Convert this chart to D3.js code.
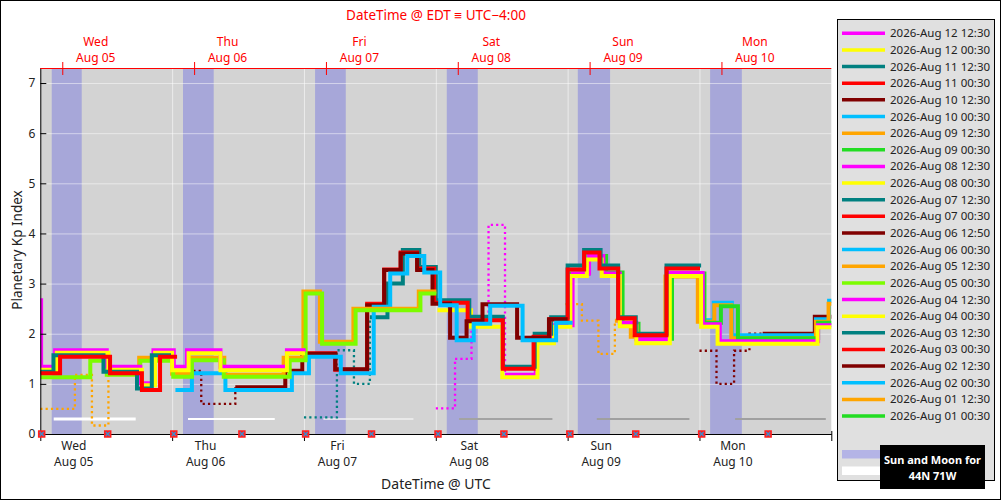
<!DOCTYPE html>
<html><head><meta charset="utf-8">
<script src="https://cdn.jsdelivr.net/npm/d3@7"></script>
<style>body{margin:0;background:#fff}svg{display:block;font-family:"Noto Sans",sans-serif}</style>
</head><body><svg id="c" width="1001" height="500"></svg>
<script>
// ---------------- DATA (hours after 2026-08-05 00:00 UTC, Kp value) ----------------
const legendLabels = ["2026-Aug 12 12:30","2026-Aug 12 00:30","2026-Aug 11 12:30","2026-Aug 11 00:30",
  "2026-Aug 10 12:30","2026-Aug 10 00:30","2026-Aug 09 12:30","2026-Aug 09 00:30",
  "2026-Aug 08 12:30","2026-Aug 08 00:30","2026-Aug 07 12:30","2026-Aug 07 00:30",
  "2026-Aug 06 12:50","2026-Aug 06 00:30","2026-Aug 05 12:30","2026-Aug 05 00:30",
  "2026-Aug 04 12:30","2026-Aug 04 00:30","2026-Aug 03 12:30","2026-Aug 03 00:30",
  "2026-Aug 02 12:30","2026-Aug 02 00:30","2026-Aug 01 12:30","2026-Aug 01 00:30"];
const legendColors = ["#ff00ff","#ffff00","#008080","#ff0000","#800000","#00bfff","#ffa500","#22dd22",
  "#ff00ff","#ffff00","#008080","#ff0000","#800000","#00bfff","#ffa500","#7cfc00",
  "#ff00ff","#ffff00","#008080","#ff0000","#800000","#00bfff","#ffa500","#22dd22"];

// forecast (solid) steps
const fcAug03_0030 = [[0,1.21],[3.6,1.54],[12.7,1.21],[18.5,0.88],[21.8,1.54],[24.9,1.54]];
const fcAug03_1230 = [[0,1.24],[2.4,1.57],[11.5,1.24],[17.6,0.91],[20.3,1.57],[23.8,1.57]];
const fcAug04_0030 = [[0,1.28],[3.0,1.62],[12.4,1.28],[18.5,0.97],[20.9,1.62],[24.0,1.27],[27.0,1.61],[32.8,1.27],[44.9,1.61],[48.2,1.61]];
const fcAug04_1230 = [[-3,2.67],[0.15,1.34],[2.7,1.67],[12.1,1.34],[18.2,1.01],[20.6,1.67],[24.3,1.34],[26.7,1.67],[32.8,1.34],[44.9,1.67],[48.3,1.67]];
const fcAug05_0030 = [[0,1.13],[9.1,1.46],[12.1,1.18],[18.2,1.46],[24.2,1.14],[27.6,1.47],[33.4,1.14],[45.4,1.47],[48.3,2.8],[51.3,1.8],[57.4,2.47],[69.2,2.8],[72.1,2.8]];
const fcAug05_1230 = [[12.4,1.2],[18.0,1.52],[24.0,1.2],[27.3,1.52],[33.5,1.18],[44.3,1.52],[47.9,2.84],[50.9,1.84],[57.0,2.5],[68.9,2.84],[72.1,2.84]];
const fcAug06_0030 = [[24.6,0.88],[27.6,1.21],[33.7,0.88],[45.8,1.21],[48.9,1.54],[54.7,1.21],[60.7,2.54],[63.7,3.2],[66.8,3.55],[69.9,3.22],[72.8,2.57],[75.8,1.87],[78.9,2.2],[81.9,2.56],[87.8,1.87],[93.9,2.22],[96.9,2.22]];
const fcAug06_1250 = [[35.5,0.93],[44.6,1.26],[47.7,1.6],[53.7,1.29],[59.5,2.57],[62.6,3.27],[65.6,3.6],[68.6,3.27],[71.4,2.6],[74.6,1.92],[77.6,2.25],[80.5,2.59],[86.8,1.92],[92.6,2.29],[96.0,2.29]];
const fcAug07_0030 = [[48.2,1.61],[53.7,1.28],[59.5,2.6],[62.6,3.28],[65.6,3.62],[68.6,3.3],[71.7,2.62],[77.8,2.27],[84.2,1.3],[89.8,1.94],[92.7,2.29],[96.0,3.28],[99.0,3.62],[101.8,3.3],[105.2,2.31],[108.2,1.97],[114.0,3.3],[120.1,3.3]];
const fcAug07_1230 = [[60.0,2.33],[63.2,3.0],[66.0,3.67],[69.0,3.33],[72.0,2.67],[78.1,2.34],[84.2,1.34],[90.0,2.0],[93.0,2.33],[96.0,3.36],[99.0,3.67],[102.0,3.36],[105.2,2.33],[108.4,2.0],[114.0,3.36],[120.3,3.36]];
const fcAug08_0030 = [[72.3,2.47],[78.4,2.14],[84.1,1.13],[90.5,1.81],[93.5,2.14],[96.5,3.15],[99.5,3.48],[102.2,3.15],[105.5,2.15],[108.5,1.81],[114.6,3.15],[120.3,2.14],[123.3,1.8],[141.5,2.13],[144.2,2.13]];
const fcAug08_1230 = [[84.6,1.18],[90.2,1.84],[93.2,2.17],[96.9,3.2],[99.9,3.55],[102.5,3.2],[105.5,2.22],[108.5,1.89],[114.4,3.21],[120.6,2.19],[123.7,1.85],[141.6,2.17],[144.2,2.17]];
const fcAug09_0030 = [[96.3,3.2],[99.8,3.55],[103.0,3.22],[106.0,2.2],[108.9,1.9],[115.0,3.2],[120.9,2.22],[123.9,2.55],[127.0,1.91],[141.6,2.22],[144.2,2.22]];
const fcAug09_1230 = [[104.6,2.26],[107.5,1.94],[113.8,3.14],[119.7,2.24],[122.7,2.57],[125.8,1.91],[141.2,2.24],[143.5,2.6],[144.2,2.6]];
const fcAug10_0030 = [[120.2,2.27],[122.6,2.62],[125.9,1.97],[141.2,2.29],[143.6,2.66],[144.2,2.66]];
const fcAug10_1230 = [[131.5,2.0],[141.0,2.34],[144.2,2.34]];

// estimated (dotted) steps at the start of the 12:30 issues
const estAug05_1230 = [[0,0.5],[6.3,1.18],[9.4,0.17],[12.4,1.2]];
const estAug06_1250 = [[24,1.26],[29.3,0.6],[35.5,0.93]];
const estAug07_1230 = [[48,0.33],[54.0,1.67],[57.1,1.0],[60.0,2.33]];
const estAug08_1230 = [[72,0.51],[75.5,1.5],[78.5,2.2],[81.6,4.17],[84.6,1.18]];
const estAug09_1230 = [[95.6,2.59],[98.6,2.26],[101.6,1.6],[104.6,2.26]];
const estAug10_1230 = [[120.0,1.66],[123.1,1.0],[126.3,1.66],[129.1,2.0],[131.5,2.0]];

// same order as the legend
const forecastSteps = [[],[],[],[],fcAug10_1230,fcAug10_0030,fcAug09_1230,fcAug09_0030,
  fcAug08_1230,fcAug08_0030,fcAug07_1230,fcAug07_0030,fcAug06_1250,fcAug06_0030,fcAug05_1230,fcAug05_0030,
  fcAug04_1230,fcAug04_0030,fcAug03_1230,fcAug03_0030,[],[],[],[]];
const estimateSteps = [[],[],[],[],estAug10_1230,[],estAug09_1230,[],
  estAug08_1230,[],estAug07_1230,[],estAug06_1250,[],estAug05_1230,[],
  [],[],[],[],[],[],[],[]];

// sun (night) and moon periods, hours
const nightStart = [2.08,25.98,50.02,74.0,97.85,121.94];
const nightEnd   = [7.54,31.57,55.61,79.64,103.73,127.71];
const moonStart  = [2.44,26.89,51.53,76.24,101.31,126.49];
const moonEnd    = [17.37,42.68,67.92,93.23,118.17,143.0];
const moonColors = ["#ffffff","#ffffff","#f0f0f0","#a3a3a3","#a0a0a0","#a0a0a0"];
const moonWidths = [3,2,1.5,2,2,2];
const markerHours = [0.25,12.27,24.3,36.7,48.3,60.3,72.4,84.4,96.4,108.4,120.4,132.5];
const kpTicks = [0,1,2,3,4,5,6,7];
const dayHours = [0,24,48,72,96,120,144];

// ---------------- CHART ----------------
const svg = d3.select('#c');
const M = {l:40.3, r:831.3, t:68, b:434};
const t0 = Date.UTC(2026,7,5);
const toDate = h => new Date(t0 + h*3600e3);
const x = d3.scaleUtc().domain([toDate(0), toDate(144)]).range([M.l, M.r]);
const y = d3.scaleLinear().domain([0,7.3]).range([M.b, M.t]);

svg.append('rect').attr('x',0.5).attr('y',0.5).attr('width',1000).attr('height',499)
  .attr('fill','#fff').attr('stroke','#000');

svg.append('defs').append('clipPath').attr('id','pc').append('rect')
  .attr('x',M.l).attr('y',M.t).attr('width',M.r-M.l).attr('height',M.b-M.t);

svg.append('rect').attr('x',M.l).attr('y',M.t).attr('width',M.r-M.l).attr('height',M.b-M.t).attr('fill','#d3d3d3');

// night bands
svg.append('g').selectAll('rect').data(nightStart).join('rect')
  .attr('x',(d)=>x(toDate(d))).attr('width',(d,i)=>x(toDate(nightEnd[i]))-x(toDate(d)))
  .attr('y',M.t).attr('height',M.b-M.t).attr('fill','#a7a7d9');

// gridlines
const gy = svg.append('g').attr('transform',`translate(${M.l},0)`)
  .call(d3.axisLeft(y).tickValues(kpTicks.slice(1)).tickSize(-(M.r-M.l)).tickFormat(''));
gy.select('.domain').remove();
gy.selectAll('line').attr('stroke','#fff').attr('stroke-opacity',0.5);
const gx = svg.append('g').attr('transform',`translate(0,${M.b})`)
  .call(d3.axisBottom(x).tickValues(dayHours.slice(1,6).map(toDate)).tickSize(-(M.b-M.t)).tickFormat(''));
gx.select('.domain').remove();
gx.selectAll('line').attr('stroke','#fff').attr('stroke-opacity',0.55);

// moon lines
svg.append('g').selectAll('line').data(moonStart).join('line')
  .attr('x1',d=>x(toDate(d))).attr('x2',(d,i)=>x(toDate(moonEnd[i])))
  .attr('y1',y(0.3)).attr('y2',y(0.3))
  .attr('stroke',(d,i)=>moonColors[i]).attr('stroke-width',(d,i)=>moonWidths[i]);

// series
const line = d3.line().x(d=>x(toDate(d[0]))).y(d=>y(d[1])).curve(d3.curveStepAfter);
const sg = svg.append('g').attr('clip-path','url(#pc)');
legendLabels.forEach((lab,i)=>{
  const c = legendColors[i];
  if (estimateSteps[i].length) sg.append('path').attr('d',line(estimateSteps[i]))
    .attr('fill','none').attr('stroke',c).attr('stroke-width',2.3).attr('stroke-dasharray','2.2,3.1');
  if (forecastSteps[i].length) sg.append('path').attr('d',line(forecastSteps[i]))
    .attr('fill','none').attr('stroke',c).attr('stroke-width',4).attr('stroke-linejoin','miter');
});

// left axis
const ya = svg.append('g').attr('transform',`translate(${M.l},0)`)
  .call(d3.axisLeft(y).tickValues(kpTicks).tickSizeInner(-6).tickSizeOuter(0).tickPadding(5));
ya.select('.domain').attr('stroke','#000').attr('d',`M0.5,${M.t}V${M.b}`);
ya.selectAll('text').attr('font-size',12).attr('fill','#222').attr('font-family','"Noto Sans",sans-serif');
ya.selectAll('line').attr('stroke','#000');

// bottom axis
const bx = svg.append('g').attr('transform',`translate(0,${M.b})`)
  .call(d3.axisBottom(x).tickValues(dayHours.map(toDate)).tickSizeInner(7).tickSizeOuter(0).tickFormat(''));
bx.select('.domain').attr('stroke','#000');
bx.selectAll('line').attr('stroke','#000').attr('y1',-3);
const bl = svg.append('g').attr('transform',`translate(0,${M.b})`)
  .call(d3.axisBottom(x).tickValues(dayHours.slice(0,6).map(h=>toDate(h+6))).tickSize(0));
bl.select('.domain').remove();
bl.selectAll('text').each(function(d){
  const t = d3.select(this).text('').attr('y',0).attr('dy',null).attr('font-size',12).attr('fill','#222')
    .attr('font-family','"Noto Sans",sans-serif');
  t.append('tspan').attr('x',0).attr('y',15.5).text(d3.utcFormat('%a')(d));
  t.append('tspan').attr('x',0).attr('y',31.5).text(d3.utcFormat('%b %d')(d));
});

// top axis (EDT)
const tx = svg.append('g').attr('transform',`translate(0,${M.t})`)
  .call(d3.axisTop(x).tickValues(dayHours.slice(0,6).map(h=>toDate(h+4))).tickSizeInner(6).tickSizeOuter(0).tickFormat(''));
tx.select('.domain').attr('stroke','#f00').attr('d',`M${M.l},0.5H${M.r}`);
tx.selectAll('line').attr('stroke','#f00').attr('y1',7).attr('y2',-6);
const tl = svg.append('g').attr('transform',`translate(0,${M.t})`)
  .call(d3.axisTop(x).tickValues(dayHours.slice(0,6).map(h=>toDate(h+10))).tickSize(0));
tl.select('.domain').remove();
tl.selectAll('text').each(function(d){
  const local = new Date(d.getTime()-4*3600e3);
  const t = d3.select(this).text('').attr('y',0).attr('dy',null).attr('font-size',12).attr('fill','#f00')
    .attr('font-family','"Noto Sans",sans-serif');
  t.append('tspan').attr('x',0).attr('y',-22.5).text(d3.utcFormat('%a')(local));
  t.append('tspan').attr('x',0).attr('y',-6.5).text(d3.utcFormat('%b %d')(local));
});

// markers on bottom axis
const mk = svg.append('g').selectAll('g').data(markerHours).join('g')
  .attr('transform',d=>`translate(${x(toDate(d))},${M.b})`);
mk.append('rect').attr('x',-3.75).attr('y',-3.75).attr('width',7.5).attr('height',7.5).attr('fill','#ff2020');
mk.append('path').attr('d','M-2,-2L2,2M-2,2L2,-2').attr('stroke','#3a8fd0').attr('stroke-width',1.3);

// titles
svg.append('text').attr('x',436).attr('y',20).attr('text-anchor','middle').attr('font-size',13.5)
  .attr('fill','#f00').text('DateTime @ EDT \u2261 UTC\u22124:00');
svg.append('text').attr('x',436).attr('y',489).attr('text-anchor','middle').attr('font-size',14)
  .attr('fill','#222').text('DateTime @ UTC');
svg.append('text').attr('transform','translate(22,250) rotate(-90)').attr('text-anchor','middle')
  .attr('font-size',13.5).attr('fill','#222').text('Planetary Kp Index');

// legend
const lg = svg.append('g');
lg.append('rect').attr('x',837.5).attr('y',19.5).attr('width',157).attr('height',461)
  .attr('fill','#e0e0e0').attr('stroke','#000');
const le = lg.selectAll('g.e').data(legendLabels).join('g').attr('class','e')
  .attr('transform',(d,i)=>`translate(0,${33.3+16.64*i})`);
le.append('line').attr('x1',842).attr('x2',885).attr('stroke',(d,i)=>legendColors[i]).attr('stroke-width',3.5);
le.append('text').attr('x',890).attr('y',4).attr('font-size',11.5).attr('fill','#222').text(d=>d);
lg.append('rect').attr('x',842).attr('y',450).attr('width',43).attr('height',8.5).attr('fill','#b4b4e6');
lg.append('rect').attr('x',842).attr('y',466.5).attr('width',43).attr('height',8.5).attr('fill','#fff');
lg.append('rect').attr('x',880).attr('y',445).attr('width',105).attr('height',44).attr('fill','#000');
lg.append('text').attr('x',932.5).attr('y',463.5).attr('text-anchor','middle').attr('font-size',11)
  .attr('font-weight','bold').attr('fill','#fff').text('Sun and Moon for');
lg.append('text').attr('x',932.5).attr('y',479.5).attr('text-anchor','middle').attr('font-size',11)
  .attr('font-weight','bold').attr('fill','#fff').text('44N 71W');
</script></body></html>
